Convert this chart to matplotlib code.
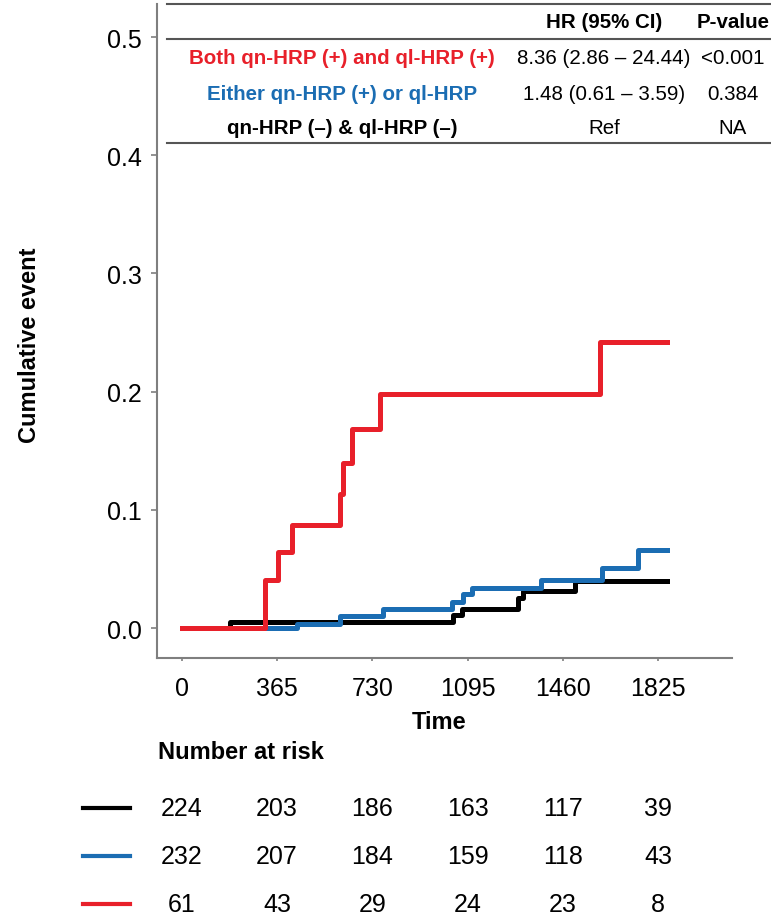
import matplotlib as mpl
mpl.use("Agg")
import matplotlib.pyplot as plt
from matplotlib import font_manager
from matplotlib.lines import Line2D
import matplotlib.transforms as mtransforms

# step curves (days, cumulative event)
black_t = [0, 185, 1040, 1072, 1289, 1308, 1506, 1859]
black_y = [0, 0.005, 0.011, 0.016, 0.025, 0.031, 0.040, 0.040]
blue_t = [0, 440, 606, 771, 1034, 1078, 1110, 1378, 1608, 1748, 1859]
blue_y = [0, 0.003, 0.010, 0.016, 0.022, 0.029, 0.034, 0.041, 0.051, 0.066, 0.066]
red_t = [0, 319, 370, 421, 606, 619, 651, 759, 1602, 1859]
red_y = [0, 0.041, 0.064, 0.087, 0.113, 0.140, 0.168, 0.198, 0.242, 0.242]

xticks = [0, 365, 730, 1095, 1460, 1825]
yticks = [0.0, 0.1, 0.2, 0.3, 0.4, 0.5]

risk_black = [224, 203, 186, 163, 117, 39]
risk_blue = [232, 207, 184, 159, 118, 43]
risk_red = [61, 43, 29, 24, 23, 8]

groups = ["Both qn-HRP (+) and ql-HRP (+)", "Either qn-HRP (+) or ql-HRP",
          "qn-HRP (\u2013) & ql-HRP (\u2013)"]
hr_text = ["8.36 (2.86 \u2013 24.44)", "1.48 (0.61 \u2013 3.59)", "Ref"]
p_text = ["<0.001", "0.384", "NA"]

RED = "#e8202a"
BLUE = "#1b6db3"
BLACK = "#000000"
GREY = "#7f7f7f"

names = {f.name for f in font_manager.fontManager.ttflist}
if "Liberation Sans Narrow" in names:
    plt.rcParams["font.family"] = ["Liberation Sans Narrow", "DejaVu Sans"]
    k = 1.2
else:
    plt.rcParams["font.family"] = ["Liberation Sans", "DejaVu Sans"]
    k = 1.0

FS_TICK = 18 * k
FS_LAB = 17 * k
FS_TAB = 14.8 * k

W, H = 771, 920
fig = plt.figure(figsize=(W / 100, H / 100), dpi=100)


def fx(px):
    return px / W


def fy(py):
    return 1 - py / H


ax = fig.add_axes([fx(157), fy(659.3), fx(732) - fx(157), fy(5) - fy(659.3)])
ax.step(black_t, black_y, where="post", color=BLACK, lw=3.6)
ax.step(blue_t, blue_y, where="post", color=BLUE, lw=3.6)
ax.step(red_t, red_y, where="post", color=RED, lw=3.6)

ax.set_xlim(-94.6, 2107.6)
ax.set_ylim(-0.0256, 0.528)
ax.set_xticks(xticks)
ax.set_yticks(yticks)
ax.set_yticklabels([f"{v:.1f}" for v in yticks])
for s in ["top", "right"]:
    ax.spines[s].set_visible(False)
for s in ["left", "bottom"]:
    ax.spines[s].set_color(GREY)
    ax.spines[s].set_linewidth(1.5)
ax.tick_params(axis="y", length=4, width=1.2, color=GREY, pad=7,
               labelsize=FS_TICK)
ax.tick_params(axis="x", length=2.5, width=1.2, color=GREY, pad=10,
               labelsize=FS_TICK)

fig.text(fx(30), fy(345), "Cumulative event", rotation=90, ha="center",
         va="center", fontsize=FS_LAB, fontweight="bold")
fig.text(fx(439), fy(723), "Time", ha="center", va="center",
         fontsize=FS_LAB, fontweight="bold")

# HR table at the top
for py in [5, 40, 144]:
    fig.add_artist(Line2D([fx(167), 1], [fy(py), fy(py)],
                          transform=fig.transFigure, color="#555555", lw=1.5))
fig.text(fx(604), fy(23), "HR (95% CI)", ha="center", va="center",
         fontsize=FS_TAB, fontweight="bold")
fig.text(fx(733), fy(23), "P-value", ha="center", va="center",
         fontsize=FS_TAB, fontweight="bold")
row_y = [58, 94, 128]
for g, hr, p, c, py in zip(groups, hr_text, p_text, [RED, BLUE, BLACK], row_y):
    fig.text(fx(342), fy(py), g, ha="center", va="center", color=c,
             fontsize=FS_TAB, fontweight="bold")
    fig.text(fx(604), fy(py), hr, ha="center", va="center",
             fontsize=FS_TAB)
    fig.text(fx(733), fy(py), p, ha="center", va="center",
             fontsize=FS_TAB)

# number at risk
trans = mtransforms.blended_transform_factory(ax.transData, fig.transFigure)
fig.text(fx(158), fy(753), "Number at risk", ha="left", va="center",
         fontsize=FS_LAB, fontweight="bold")
for risk, c, py in zip([risk_black, risk_blue, risk_red], [BLACK, BLUE, RED],
                       [809, 857, 905]):
    fig.add_artist(Line2D([fx(83), fx(130)], [fy(py), fy(py)],
                          transform=fig.transFigure, color=c, lw=3))
    for t, n in zip(xticks, risk):
        fig.text(t, fy(py), str(n), transform=trans, ha="center",
                 va="center", fontsize=FS_TICK)

fig.savefig("out.png", dpi=100)
